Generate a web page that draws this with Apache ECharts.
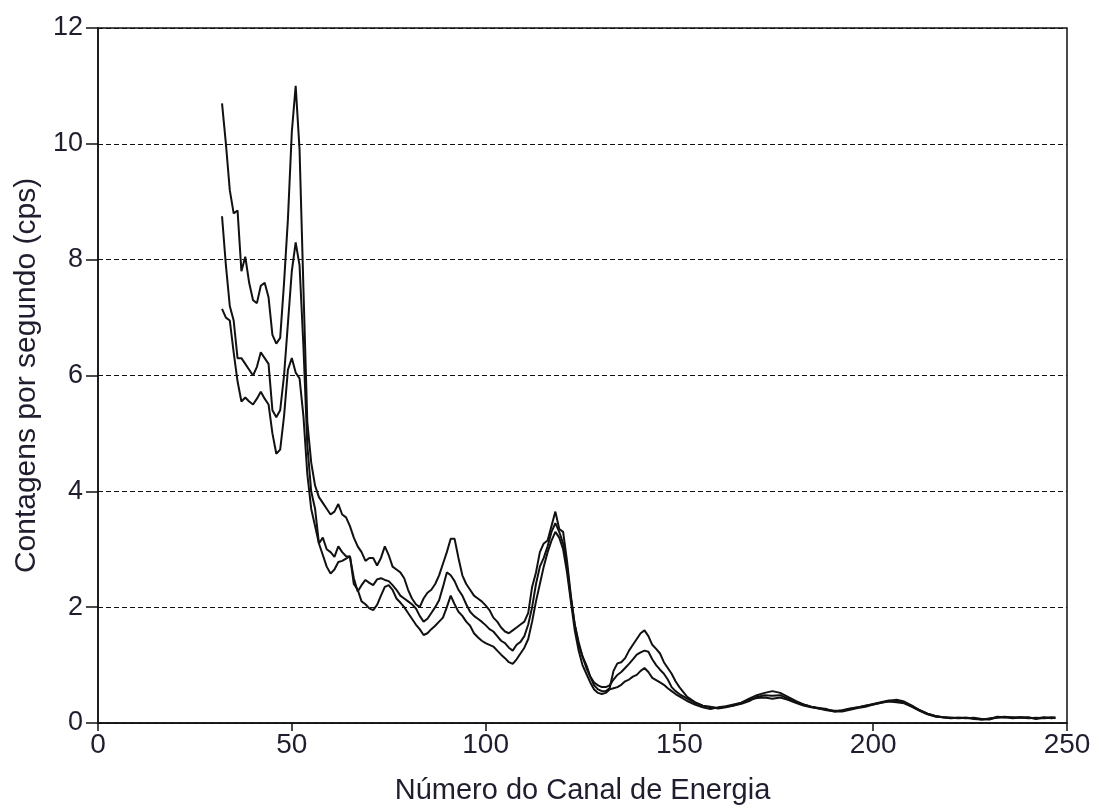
<!DOCTYPE html>
<html>
<head>
<meta charset="utf-8">
<script src="https://cdn.jsdelivr.net/npm/echarts@6/dist/echarts.min.js"></script>
<style>html,body{margin:0;padding:0;background:#fff}#c{width:1100px;height:810px}</style>
</head>
<body>
<div id="c"></div>
<script>
const channels = [32,33,34,35,36,37,38,39,40,41,42,43,44,45,46,47,48,49,50,51,52,53,54,55,56,57,58,59,60,61,62,63,64,65,66,67,68,69,70,71,72,73,74,75,76,77,78,79,80,81,82,83,84,85,86,87,88,89,90,91,92,93,94,95,96,97,98,99,100,101,102,103,104,105,106,107,108,109,110,111,112,113,114,115,116,117,118,119,120,121,122,123,124,125,126,127,128,129,130,131,132,133,134,135,136,137,138,139,140,141,142,143,144,145,146,147,148,149,150,152,154,156,158,160,162,164,166,168,170,172,174,176,178,180,182,184,186,188,190,192,194,196,198,200,202,204,206,208,210,212,214,216,218,220,222,224,226,228,230,232,234,236,238,240,242,244,246,247];

const seriesA = [10.7,10.0,9.2,8.8,8.85,7.8,8.05,7.6,7.3,7.25,7.55,7.6,7.35,6.7,6.55,6.65,7.6,8.7,10.2,11.0,9.9,7.5,5.2,4.5,4.1,3.9,3.8,3.7,3.6,3.65,3.78,3.6,3.55,3.4,3.2,3.05,2.95,2.8,2.85,2.85,2.72,2.85,3.05,2.9,2.7,2.65,2.6,2.5,2.3,2.15,2.05,2.0,2.15,2.25,2.3,2.4,2.55,2.75,2.95,3.18,3.18,2.85,2.55,2.4,2.3,2.2,2.15,2.1,2.03,1.95,1.82,1.75,1.65,1.58,1.55,1.6,1.65,1.7,1.75,1.9,2.35,2.6,2.95,3.1,3.15,3.4,3.65,3.35,3.3,2.8,2.2,1.7,1.4,1.15,1.0,0.8,0.65,0.58,0.55,0.55,0.6,0.9,1.03,1.05,1.12,1.25,1.35,1.45,1.55,1.6,1.5,1.35,1.28,1.2,1.05,0.95,0.85,0.72,0.62,0.45,0.36,0.3,0.27,0.26,0.28,0.3,0.35,0.42,0.48,0.52,0.55,0.52,0.45,0.38,0.32,0.28,0.26,0.24,0.2,0.2,0.23,0.26,0.28,0.32,0.35,0.38,0.4,0.37,0.3,0.22,0.16,0.12,0.1,0.09,0.09,0.09,0.08,0.06,0.07,0.11,0.1,0.1,0.09,0.1,0.07,0.09,0.1,0.08];

const seriesB = [8.75,7.9,7.2,6.95,6.3,6.3,6.2,6.1,6.0,6.15,6.4,6.3,6.2,5.4,5.28,5.4,6.0,6.9,7.8,8.3,7.9,6.5,4.8,4.0,3.7,3.1,3.2,3.0,2.95,2.87,3.05,2.95,2.88,2.87,2.5,2.27,2.38,2.47,2.42,2.38,2.48,2.5,2.47,2.45,2.38,2.3,2.2,2.15,2.1,2.05,1.98,1.85,1.75,1.8,1.9,2.0,2.12,2.35,2.6,2.55,2.45,2.3,2.2,2.05,1.92,1.85,1.8,1.75,1.69,1.62,1.58,1.5,1.42,1.38,1.3,1.25,1.35,1.4,1.5,1.7,2.0,2.4,2.7,2.85,3.05,3.3,3.45,3.3,3.1,2.7,2.15,1.7,1.35,1.15,0.95,0.8,0.7,0.65,0.62,0.62,0.65,0.75,0.83,0.88,0.95,1.02,1.1,1.18,1.22,1.25,1.23,1.1,1.0,0.92,0.85,0.75,0.62,0.55,0.5,0.42,0.35,0.3,0.28,0.25,0.27,0.3,0.33,0.38,0.45,0.48,0.47,0.48,0.42,0.36,0.32,0.28,0.25,0.23,0.21,0.21,0.24,0.27,0.3,0.33,0.36,0.39,0.38,0.35,0.29,0.22,0.16,0.12,0.1,0.08,0.09,0.08,0.09,0.07,0.06,0.1,0.11,0.09,0.1,0.08,0.09,0.08,0.09,0.1];

const seriesC = [7.15,7.0,6.95,6.4,5.9,5.55,5.62,5.55,5.5,5.6,5.72,5.6,5.5,5.0,4.65,4.72,5.3,6.1,6.3,6.05,5.95,5.3,4.3,3.7,3.4,3.1,2.9,2.7,2.58,2.65,2.78,2.8,2.84,2.88,2.4,2.3,2.1,2.05,1.98,1.95,2.04,2.2,2.35,2.38,2.3,2.15,2.08,2.0,1.9,1.8,1.7,1.62,1.52,1.55,1.62,1.68,1.75,1.82,2.0,2.2,2.05,1.92,1.85,1.75,1.68,1.55,1.48,1.42,1.38,1.35,1.32,1.25,1.18,1.12,1.05,1.02,1.1,1.2,1.3,1.45,1.75,2.1,2.4,2.7,2.95,3.15,3.3,3.2,3.0,2.6,2.1,1.6,1.25,1.0,0.85,0.7,0.58,0.52,0.5,0.52,0.58,0.6,0.62,0.66,0.72,0.75,0.8,0.83,0.9,0.95,0.88,0.78,0.74,0.7,0.66,0.6,0.55,0.5,0.46,0.38,0.32,0.27,0.24,0.27,0.29,0.32,0.35,0.4,0.43,0.44,0.42,0.44,0.4,0.35,0.3,0.27,0.25,0.22,0.2,0.22,0.25,0.27,0.3,0.32,0.35,0.37,0.36,0.34,0.28,0.21,0.15,0.11,0.1,0.09,0.08,0.09,0.07,0.06,0.08,0.09,0.1,0.08,0.1,0.09,0.08,0.1,0.08,0.09];

const xTitle = 'Número do Canal de Energia';
const yTitle = 'Contagens por segundo (cps)';

const pair = arr => channels.map((c, i) => [c, arr[i]]);
const lineStyle = { color: '#111', width: 2 };
const textColor = '#1e1e2e';

const chart = echarts.init(document.getElementById('c'));
chart.setOption({
  animation: false,
  backgroundColor: '#fff',
  grid: { left: 98, right: 33, top: 28, bottom: 85, show: true, borderColor: '#111', borderWidth: 1.5, backgroundColor: 'transparent' },
  xAxis: {
    type: 'value', min: 0, max: 250, interval: 50,
    name: xTitle, nameLocation: 'middle', nameGap: 53,
    nameTextStyle: { fontFamily: 'Liberation Sans, Arial', fontSize: 29, color: textColor },
    axisLine: { show: true, lineStyle: { color: '#111', width: 1.5 } },
    axisTick: { show: true, inside: false, length: 8, lineStyle: { color: '#111', width: 1.5 } },
    axisLabel: { fontFamily: 'Liberation Sans, Arial', fontSize: 28, color: textColor, margin: 8 },
    splitLine: { show: false }
  },
  yAxis: {
    type: 'value', min: 0, max: 12, interval: 2,
    name: yTitle, nameLocation: 'middle', nameGap: 54,
    nameTextStyle: { fontFamily: 'Liberation Sans, Arial', fontSize: 30, color: textColor },
    axisLine: { show: true, lineStyle: { color: '#111', width: 1.5 } },
    axisTick: { show: true, inside: false, length: 12, lineStyle: { color: '#111', width: 1.5 } },
    axisLabel: { fontFamily: 'Liberation Sans, Arial', fontSize: 27, color: textColor, margin: 15 },
    splitLine: { show: true, lineStyle: { color: '#111', width: 1.2, type: [5, 3] } }
  },
  series: [
    { type: 'line', data: pair(seriesA), showSymbol: false, symbol: 'none', lineStyle: lineStyle },
    { type: 'line', data: pair(seriesB), showSymbol: false, symbol: 'none', lineStyle: lineStyle },
    { type: 'line', data: pair(seriesC), showSymbol: false, symbol: 'none', lineStyle: lineStyle }
  ]
});
</script>
</body>
</html>
